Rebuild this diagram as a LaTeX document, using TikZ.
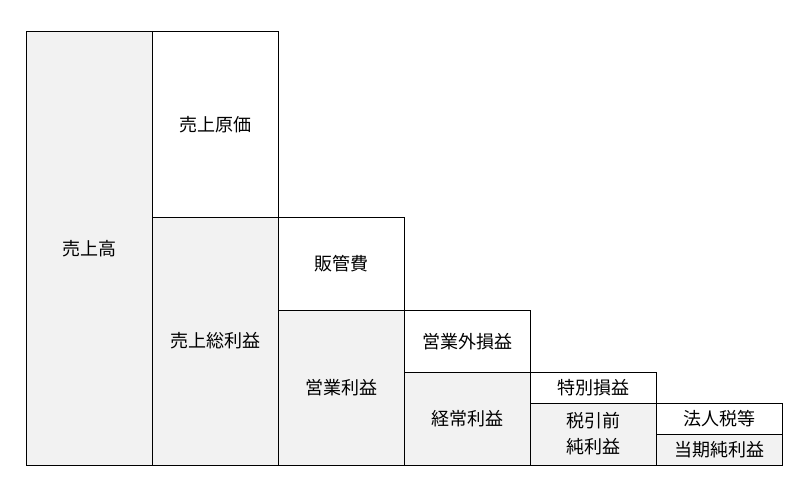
\documentclass[tikz,border=0pt]{standalone}
\usepackage{fontspec}
\newfontfamily\jpfont{Noto Sans CJK JP}
\usetikzlibrary{positioning}
\definecolor{boxgray}{HTML}{F2F2F2}

\begin{document}
\begin{tikzpicture}
[x=1pt,y=-1pt]
\tikzset{
	item/.style = {draw, line width=0.9pt, outer sep=0, inner sep=0, minimum width=126pt, anchor=north west, align=center, font=\jpfont\fontsize{18}{26}\selectfont},
	profit/.style = {item, fill=boxgray},
	cost/.style = {item, fill=white}
}
\useasboundingbox (0,0) rectangle (809,497);

\node (sales) [profit, minimum height=433.5pt] at (26.5,31.5) {売上高};

\node (cogs) [cost, minimum height=185.5pt] at (sales.north east) {売上原価};
\node (gross) [profit, minimum height=248pt] at (cogs.south west) {売上総利益};

\node (sga) [cost, minimum height=93.5pt] at (gross.north east) {販管費};
\node (op) [profit, minimum height=154.5pt] at (sga.south west) {営業利益};

\node (nonop) [cost, minimum height=61.5pt] at (op.north east) {営業外損益};
\node (ord) [profit, minimum height=93pt] at (nonop.south west) {経常利益};

\node (special) [cost, minimum height=31pt] at (ord.north east) {特別損益};
\node (pretax) [profit, minimum height=62pt] at (special.south west) {税引前\\純利益};

\node (tax) [cost, minimum height=31pt] at (pretax.north east) {法人税等};
\node (net) [profit, minimum height=31pt] at (tax.south west) {当期純利益};

\end{tikzpicture}
\end{document}
